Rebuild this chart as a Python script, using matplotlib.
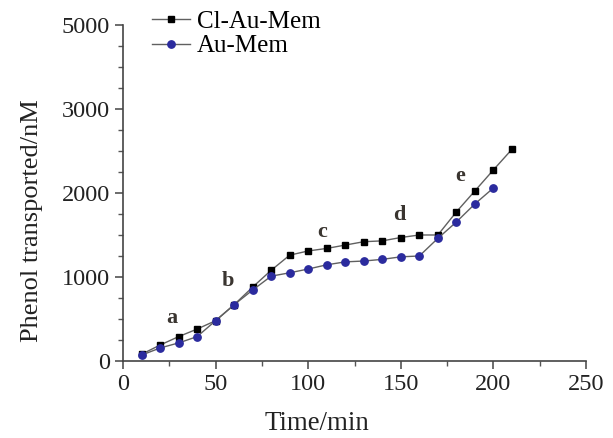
import matplotlib.pyplot as plt
from matplotlib.ticker import FixedLocator, FixedFormatter, MultipleLocator

plt.rcParams['font.family'] = ['Liberation Serif', 'DejaVu Serif']

time_min = [10, 20, 30, 40, 50, 60, 70, 80, 90, 100, 110, 120, 130, 140,
            150, 160, 170, 180, 190, 200, 210]
cl_au_mem = [80, 190, 290, 380, 480, 670, 880, 1080, 1260, 1310, 1340, 1380,
             1420, 1430, 1470, 1500, 1500, 1775, 2025, 2275, 2520]
time_au = time_min[:-1]
au_mem = [70, 155, 215, 290, 480, 670, 845, 1010, 1050, 1095, 1145, 1180,
          1190, 1210, 1240, 1250, 1460, 1655, 1870, 2060]

ytick_pos = [0, 1000, 2000, 3000, 4000]
ytick_labels = ['0', '1000', '2000', '3000', '5000']

stage_labels = ['a', 'b', 'c', 'd', 'e']
stage_x = [26.5, 56.7, 107.5, 149, 182]
stage_y = [510, 950, 1535, 1740, 2200]

fig = plt.figure(figsize=(6.13, 4.38), dpi=100)
ax = fig.add_axes([0.2007, 0.1758, 0.7553, 0.7672])

ax.plot(time_min, cl_au_mem, color='#606060', lw=1.0, marker='s',
        markersize=4.8, markerfacecolor='black', markeredgecolor='black',
        label='Cl-Au-Mem')
ax.plot(time_au, au_mem, color='#606060', lw=1.0, marker='o',
        markersize=5.3, markerfacecolor='#2b2b9e', markeredgecolor='#2b2b9e',
        label='Au-Mem')

for s, x, y in zip(stage_labels, stage_x, stage_y):
    ax.text(x, y, s, fontsize=16, fontweight='bold', color='#3a3530',
            ha='center', va='center')

ax.set_xlim(0, 250)
ax.set_ylim(0, 4000)
ax.xaxis.set_major_locator(MultipleLocator(50))
ax.xaxis.set_minor_locator(MultipleLocator(25))
ax.yaxis.set_major_locator(FixedLocator(ytick_pos))
ax.yaxis.set_major_formatter(FixedFormatter(ytick_labels))
ax.yaxis.set_minor_locator(MultipleLocator(250))

for side in ['top', 'right']:
    ax.spines[side].set_visible(False)
for side in ['left', 'bottom']:
    ax.spines[side].set_color('#444444')
    ax.spines[side].set_linewidth(1.2)

ax.tick_params(which='major', length=6, width=1.1, color='#444444',
               labelsize=17.5, labelcolor='#222222')
ax.tick_params(which='minor', length=3.5, width=1.0, color='#555555')

ax.set_xlabel('Time/min', fontsize=19.4, color='#222222')
ax.set_ylabel('Phenol transported/nM', fontsize=19, color='#222222')
ax.xaxis.set_label_coords(0.418, -0.15)
ax.yaxis.set_label_coords(-0.173, 0.417)

fig.legend(loc='upper left', bbox_to_anchor=(0.232, 1.0), frameon=False,
           fontsize=18, handlelength=1.5, handletextpad=0.3, labelspacing=0.1,
           borderaxespad=0)

fig.savefig('out.png', dpi=100)
